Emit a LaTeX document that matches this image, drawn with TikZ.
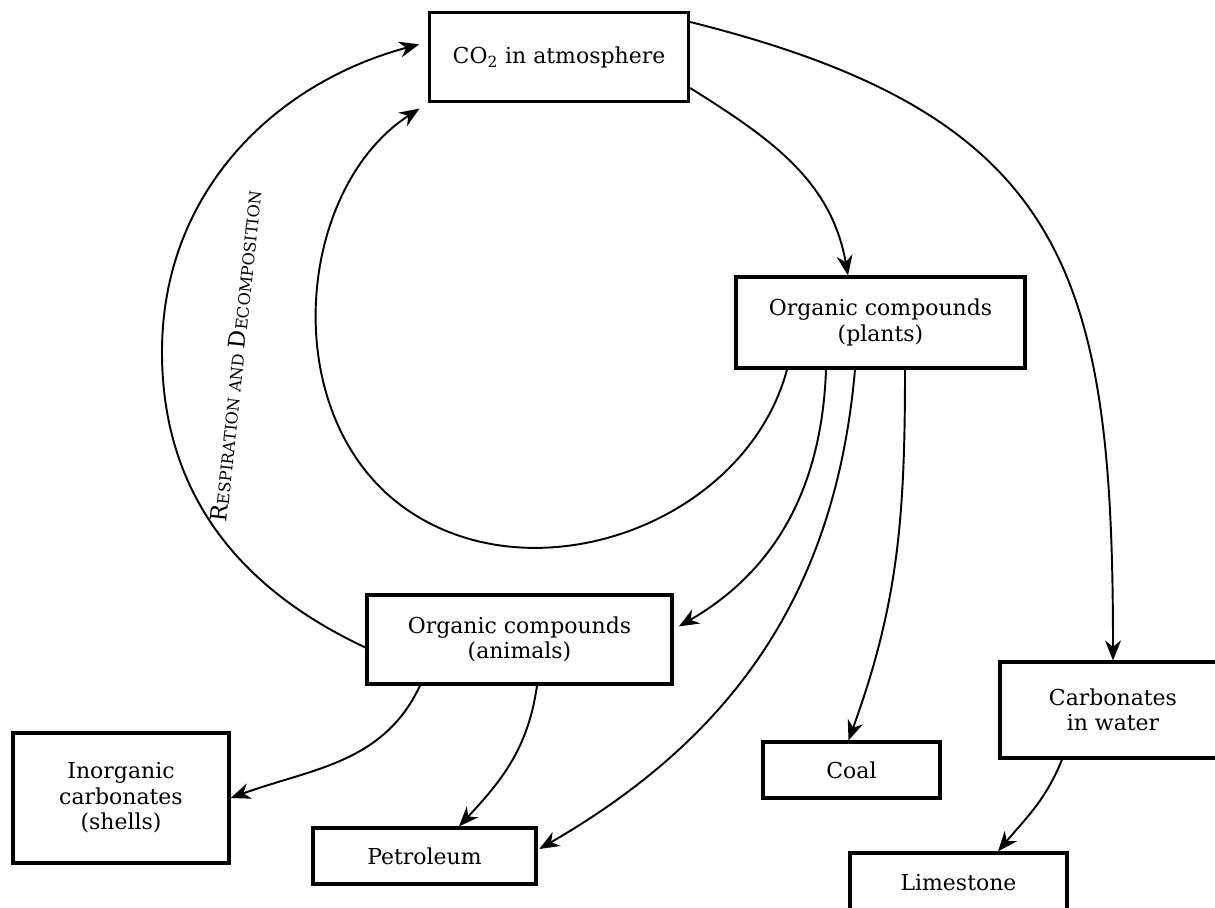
\documentclass[tikz,border=0pt]{standalone}
\usepackage{fontspec}
\setmainfont{DejaVu Serif}
\usetikzlibrary{arrows.meta}

\begin{document}
\begin{tikzpicture}[
    box/.style={draw, line width=1.8pt, inner sep=0pt, align=center,
                font=\fontsize{12.5}{14.5}\selectfont},
    flow/.style={-{Stealth[length=4mm,width=3.2mm]}, line width=1.1pt},
  ]
  \useasboundingbox (0,0) rectangle (24.3,18.16);

  % the boxes
  \node[box, minimum width=5.18cm, minimum height=1.78cm] (co2) at (11.18,17.02) {CO\textsubscript{2} in atmosphere};
  \node[box, minimum width=5.78cm, minimum height=1.82cm] (plants) at (17.61,11.71) {Organic compounds\\(plants)};
  \node[box, minimum width=6.10cm, minimum height=1.78cm] (anim) at (10.39,5.37) {Organic compounds\\(animals)};
  \node[box, minimum width=4.32cm, minimum height=2.60cm] (shells) at (2.42,2.20) {Inorganic\\carbonates\\(shells)};
  \node[box, minimum width=4.46cm, minimum height=1.12cm] (petro) at (8.49,1.04) {Petroleum};
  \node[box, minimum width=3.54cm, minimum height=1.12cm] (coal) at (17.03,2.76) {Coal};
  \node[box, minimum width=4.52cm, minimum height=1.92cm] (water) at (22.26,3.96) {Carbonates\\in water};
  \node[box, minimum width=4.34cm, minimum height=1.20cm] (lime) at (19.17,0.50) {Limestone};

  % points the two big arcs go through
  \coordinate (respmid) at (3.24,11.12);
  \coordinate (cyclemid) at (8.12,7.98);

  % respiration and decomposition
  \draw[flow, shorten >=1.8mm] ([yshift=-1.6mm]anim.west) to[out=155,in=-90] (respmid)
    to[out=90,in=195] ([yshift=3mm]co2.west);
  \node[rotate=84, font=\fontsize{13}{15}\selectfont] (resp) at (4.72,11.04)
    {R{\fontsize{9.2}{11}\selectfont ESPIRATION AND }D{\fontsize{9.2}{11}\selectfont ECOMPOSITION}};
  \draw[flow, shorten >=2mm] ([xshift=-18.7mm]plants.south) to[out=-105,in=-35] (cyclemid)
    to[out=145,in=213] (co2.south west);

  % out of the atmosphere
  \draw[flow] ([yshift=7mm]co2.east) to[out=-14,in=90,looseness=1.3] (water.north);
  \draw[flow] ([yshift=-6.2mm]co2.east) to[out=-32,in=100] ([xshift=-6.5mm]plants.north);

  % from the plants
  \draw[flow, shorten >=1.2mm] ([xshift=-10.9mm]plants.south) to[out=-92,in=30] ([yshift=2mm]anim.east);
  \draw[flow, shorten >=0.4mm] ([xshift=-5.1mm]plants.south) to[out=-95,in=30] ([yshift=1.2mm]petro.east);
  \draw[flow] ([xshift=4.9mm]plants.south) to[out=-90,in=70] ([xshift=-0.6mm]coal.north);

  % from the animals
  \draw[flow] ([xshift=-19.9mm]anim.south) to[out=-115,in=20] (shells.east);
  \draw[flow] ([xshift=3.5mm]anim.south) to[out=-98,in=47] ([xshift=6.9mm]petro.north);

  % carbonates in water
  \draw[flow] ([xshift=-10.2mm]water.south) to[out=-112,in=50] ([xshift=7.9mm]lime.north);
\end{tikzpicture}
\end{document}
